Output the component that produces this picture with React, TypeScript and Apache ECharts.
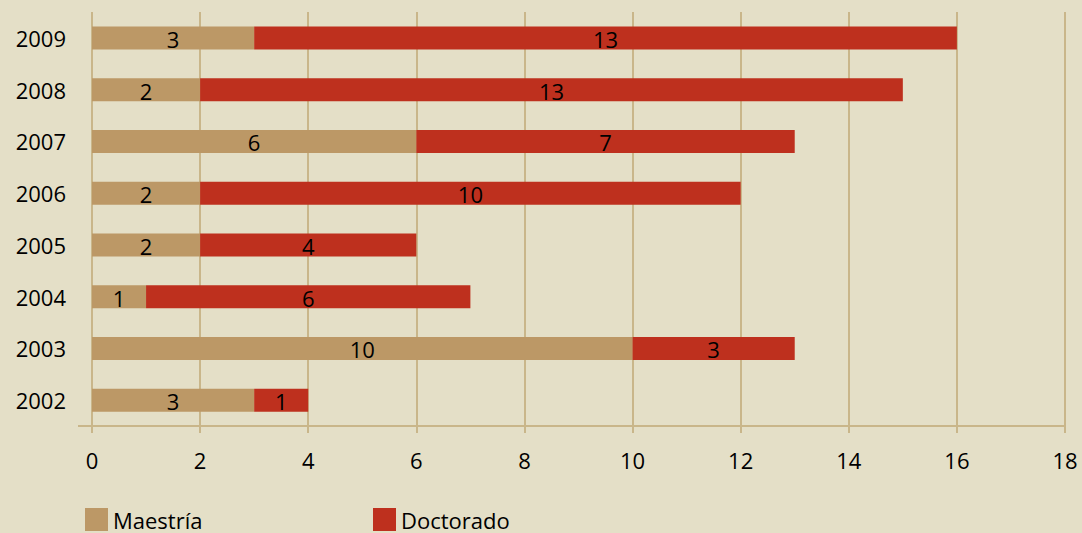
import React, { useEffect, useRef } from "react";
import * as echarts from "echarts";

const years = ["2002", "2003", "2004", "2005", "2006", "2007", "2008", "2009"];
const maestria = [3, 10, 1, 2, 2, 6, 2, 3];
const doctorado = [1, 3, 6, 4, 10, 7, 13, 13];
const seriesNames = ["Maestría", "Doctorado"];

const BG = "#e4dfc7";
const TAN = "#bc9866";
const RED = "#be301e";
const GRID = "#c9b68a";
const FONT = "'Open Sans', sans-serif";
const INK = "#000";

export default function App() {
  const ref = useRef<HTMLDivElement>(null);
  useEffect(() => {
    document.body.style.margin = "0";
    const chart = echarts.init(ref.current!, null, { renderer: "svg" });
    const label = {
      show: true,
      position: "inside",
      color: INK,
      fontSize: 22,
      fontFamily: FONT,
      offset: [0, 1],
    };
    const legendText = { fontSize: 22, color: INK, fontFamily: FONT, padding: [0, 0, 0, 0] };
    chart.setOption({
      animation: false,
      backgroundColor: BG,
      textStyle: { fontFamily: FONT },
      grid: { left: 92, right: 17, top: 12, bottom: 107 },
      legend: [
        {
          data: [seriesNames[0]],
          left: 85,
          top: 508,
          padding: 0,
          itemWidth: 23,
          itemHeight: 23,
          itemGap: 5,
          textStyle: legendText,
          icon: "rect",
        },
        {
          data: [seriesNames[1]],
          left: 373,
          top: 508,
          padding: 0,
          itemWidth: 23,
          itemHeight: 23,
          itemGap: 5,
          textStyle: legendText,
          icon: "rect",
        },
      ],
      xAxis: {
        type: "value",
        min: 0,
        max: 18,
        interval: 2,
        axisLine: { show: true, lineStyle: { color: GRID, width: 2 } },
        axisTick: { show: true, length: 7, lineStyle: { color: GRID, width: 2 } },
        splitLine: { show: true, lineStyle: { color: GRID, width: 2 } },
        axisLabel: { fontSize: 22, color: INK, margin: 23, fontFamily: FONT },
      },
      yAxis: {
        type: "category",
        data: years,
        axisLine: { show: false },
        axisTick: { show: false },
        axisLabel: { fontSize: 22, color: INK, margin: 26, fontFamily: FONT },
      },
      graphic: [
        {
          type: "line",
          shape: { x1: 78, y1: 426, x2: 92, y2: 426 },
          style: { stroke: GRID, lineWidth: 2 },
        },
      ],
      series: [
        {
          name: seriesNames[0],
          type: "bar",
          stack: "total",
          data: maestria,
          barWidth: 23,
          itemStyle: { color: TAN },
          label,
        },
        {
          name: seriesNames[1],
          type: "bar",
          stack: "total",
          data: doctorado,
          barWidth: 23,
          itemStyle: { color: RED },
          label,
        },
      ],
    });
    return () => chart.dispose();
  }, []);
  return (
    <div
      ref={ref}
      style={{ position: "fixed", left: 0, top: 0, width: 1082, height: 533 }}
    />
  );
}
